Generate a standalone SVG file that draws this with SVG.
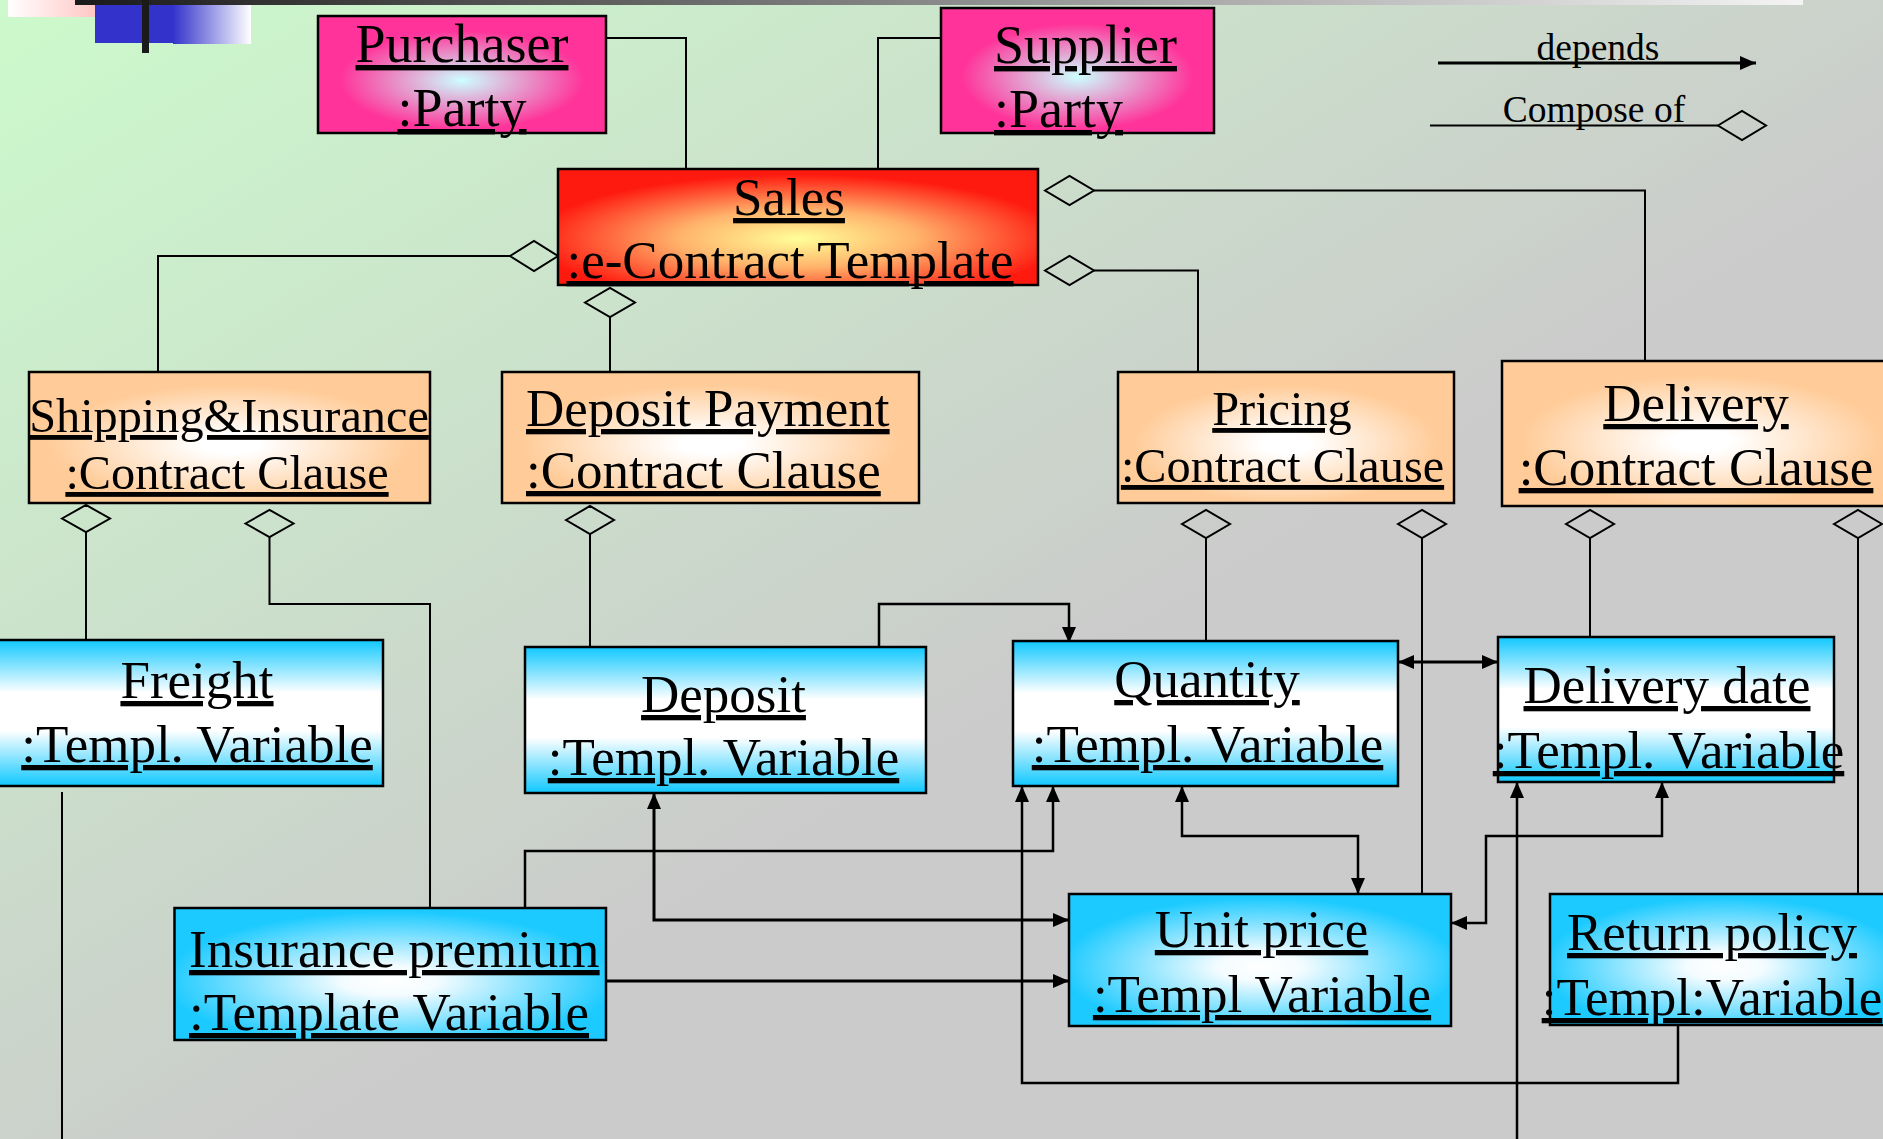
<svg xmlns="http://www.w3.org/2000/svg" width="1883" height="1139" viewBox="0 0 1883 1139">
<defs>
<linearGradient id="gBg" x1="0" y1="0" x2="1" y2="1">
<stop offset="0" stop-color="#ccfacc"/>
<stop offset="0.58" stop-color="#cbcbcb"/>
<stop offset="1" stop-color="#cbcbcb"/>
</linearGradient>
<linearGradient id="gBar" x1="0" y1="0" x2="1" y2="0">
<stop offset="0" stop-color="#1a1a1a"/>
<stop offset="0.5" stop-color="#8a8a8a"/>
<stop offset="1" stop-color="#f4f4f4"/>
</linearGradient>
<linearGradient id="gPinkW" x1="0" y1="0" x2="1" y2="0">
<stop offset="0" stop-color="#ffffff"/>
<stop offset="1" stop-color="#ffb3b0"/>
</linearGradient>
<linearGradient id="gBlueW" x1="0" y1="0" x2="1" y2="0">
<stop offset="0" stop-color="#3333cc"/>
<stop offset="1" stop-color="#ffffff"/>
</linearGradient>
<radialGradient id="gParty" cx="0.5" cy="0.55" r="0.5">
<stop offset="0" stop-color="#ccffff"/>
<stop offset="0.85" stop-color="#ff3399"/>
</radialGradient>
<radialGradient id="gSales" cx="0.5" cy="0.6" r="0.55">
<stop offset="0" stop-color="#ffff99"/>
<stop offset="0.45" stop-color="#ffb36b"/>
<stop offset="1" stop-color="#ff1a10"/>
</radialGradient>
<radialGradient id="gClause" cx="0.5" cy="0.55" r="0.5">
<stop offset="0" stop-color="#ffffff"/>
<stop offset="0.15" stop-color="#ffffff"/>
<stop offset="0.9" stop-color="#ffcc99"/>
</radialGradient>
<radialGradient id="gCyanR" cx="0.5" cy="0.55" r="0.55">
<stop offset="0" stop-color="#ffffff"/>
<stop offset="0.2" stop-color="#f4fcff"/>
<stop offset="0.95" stop-color="#1ccaff"/>
</radialGradient>
<linearGradient id="gCyanV" x1="0" y1="0" x2="0" y2="1">
<stop offset="0" stop-color="#10c8ff"/>
<stop offset="0.36" stop-color="#ffffff"/>
<stop offset="0.62" stop-color="#ffffff"/>
<stop offset="1" stop-color="#10c8ff"/>
</linearGradient>
<marker id="arr" viewBox="0 0 16 14" refX="16" refY="7" markerWidth="16" markerHeight="14" markerUnits="userSpaceOnUse" orient="auto-start-reverse">
<path d="M0,0 L16,7 L0,14 z" fill="#000"/>
</marker>
</defs>
<style>
.box{stroke:#000;stroke-width:2.5}
.t{font-family:"Liberation Serif","Times New Roman",serif;fill:#000;text-decoration:underline;text-anchor:middle}
.s{text-anchor:start}
.f54{font-size:54px}
.f53{font-size:53px}
.f52{font-size:53px}
.f48{font-size:48.3px}
.lg{font-family:"Liberation Serif","Times New Roman",serif;font-size:37.5px;fill:#000;text-anchor:middle}
.ln{fill:none;stroke:#000;stroke-width:2}
.dp{fill:none;stroke:#000;stroke-width:2.5}
.dk{fill:none;stroke:#000;stroke-width:3}
.dia{fill:none;stroke:#000;stroke-width:2}
</style>
<rect x="0" y="0" width="1883" height="1139" fill="url(#gBg)"/>
<g id="decor">
<rect x="8" y="0" width="119" height="17" fill="url(#gPinkW)"/>
<rect x="95" y="0" width="79" height="43" fill="#3333cc"/>
<rect x="173" y="0" width="78" height="44" fill="url(#gBlueW)"/>
<rect x="75" y="0" width="1728" height="5" fill="url(#gBar)"/>
<rect x="142" y="0" width="7" height="53" fill="#1a1a1a"/>
</g>
<g id="legend">
<text class="lg" x="1598" y="60">depends</text>
<line class="dk" x1="1438" y1="63" x2="1756" y2="63" marker-end="url(#arr)"/>
<text class="lg" x="1594" y="122">Compose of</text>
<line class="ln" x1="1430" y1="125.5" x2="1718" y2="125.5"/>
<polygon class="dia" points="1718,125.5 1742,111 1766,125.5 1742,140"/>
</g>
<g id="connectors">
<path class="ln" d="M606,38 H686 V169"/>
<path class="ln" d="M941,38 H878 V169"/>
<path class="ln" d="M510,256 H158 V372"/>
<path class="ln" d="M1094,190.5 H1645 V361"/>
<path class="ln" d="M1094,270.5 H1198 V372"/>
<path class="ln" d="M610,317 V372"/>
<path class="ln" d="M86,532 V640"/>
<path class="ln" d="M269.5,537 V604 H430 V908"/>
<path class="ln" d="M590,534 V647"/>
<path class="ln" d="M1206,538 V641"/>
<path class="ln" d="M1422,538 V894"/>
<path class="ln" d="M1590,538 V637"/>
<path class="ln" d="M1858,538 V894"/>
<path class="ln" d="M62,792 V1139"/>
<polygon class="dia" points="510,256 534,241 558,256 534,271"/>
<polygon class="dia" points="1045,190.5 1069.5,176 1094,190.5 1069.5,205"/>
<polygon class="dia" points="1045,270.5 1069.5,256 1094,270.5 1069.5,285"/>
<polygon class="dia" points="585,302.5 610,288 635,302.5 610,317"/>
<polygon class="dia" points="62,518.5 86,505 110,518.5 86,532"/>
<polygon class="dia" points="245.5,523.5 269.5,510 293.5,523.5 269.5,537"/>
<polygon class="dia" points="566,520 590,506 614,520 590,534"/>
<polygon class="dia" points="1182,524 1206,510 1230,524 1206,538"/>
<polygon class="dia" points="1398,524 1422,510 1446,524 1422,538"/>
<polygon class="dia" points="1566,524 1590,510 1614,524 1590,538"/>
<polygon class="dia" points="1834,524 1858,510 1882,524 1858,538"/>
<path class="dp" d="M879,647 V604 H1069 V643" marker-end="url(#arr)"/>
<path class="dp" d="M1678,1025 V1083 H1022 V786" marker-end="url(#arr)"/>
<path class="dp" d="M525,908 V851 H1053 V786" marker-end="url(#arr)"/>
<path class="dp" d="M1182,786 V836 H1358 V894" marker-start="url(#arr)" marker-end="url(#arr)"/>
<path class="dk" d="M654,793 V920 H1069" marker-start="url(#arr)" marker-end="url(#arr)"/>
<path class="dk" d="M606,981 H1069" marker-end="url(#arr)"/>
<path class="dp" d="M1662,782 V836 H1486 V923 H1451" marker-start="url(#arr)" marker-end="url(#arr)"/>
<path class="dp" d="M1517,1139 V782" marker-end="url(#arr)"/>
<path class="dk" d="M1398,662 H1498" marker-start="url(#arr)" marker-end="url(#arr)"/>
</g>
<g id="purchaser">
<rect class="box" x="318" y="16" width="288" height="117" fill="url(#gParty)"/>
<text class="t f54" x="462" y="62">Purchaser</text>
<text class="t f54" x="462" y="126">:Party</text>
</g>
<g id="supplier">
<rect class="box" x="941" y="8" width="273" height="125" fill="url(#gParty)"/>
<text class="t s f54" x="994" y="63">Supplier</text>
<text class="t s f54" x="994" y="127">:Party</text>
</g>
<g id="sales">
<rect class="box" x="558" y="169" width="480" height="116" fill="url(#gSales)"/>
<text class="t f52" x="789" y="215">Sales</text>
<text class="t f52" x="790" y="278">:e-Contract Template</text>
</g>
<g id="shipping">
<rect class="box" x="29" y="372" width="401" height="131" fill="url(#gClause)"/>
<text class="t f48" x="229" y="432">Shipping&amp;Insurance</text>
<text class="t f48" x="227" y="489">:Contract Clause</text>
</g>
<g id="depositPayment">
<rect class="box" x="502" y="372" width="417" height="131" fill="url(#gClause)"/>
<text class="t s f53" x="526" y="426">Deposit Payment</text>
<text class="t s f53" x="526" y="488">:Contract Clause</text>
</g>
<g id="pricing">
<rect class="box" x="1118" y="372" width="336" height="131" fill="url(#gClause)"/>
<text class="t f48" x="1282" y="425">Pricing</text>
<text class="t f48" x="1282.5" y="482">:Contract Clause</text>
</g>
<g id="delivery">
<rect class="box" x="1502" y="361" width="400" height="145" fill="url(#gClause)"/>
<text class="t f53" x="1696" y="421">Delivery</text>
<text class="t f53" x="1696" y="485">:Contract Clause</text>
</g>
<g id="freight">
<rect class="box" x="-5" y="640" width="388" height="146" fill="url(#gCyanV)"/>
<text class="t f52" x="197" y="698">Freight</text>
<text class="t f52" x="197" y="762">:Templ. Variable</text>
</g>
<g id="deposit">
<rect class="box" x="525" y="647" width="401" height="146" fill="url(#gCyanV)"/>
<text class="t f52" x="723.5" y="712">Deposit</text>
<text class="t f52" x="723.5" y="775">:Templ. Variable</text>
</g>
<g id="quantity">
<rect class="box" x="1013" y="641" width="385" height="145" fill="url(#gCyanV)"/>
<text class="t f52" x="1207" y="697">Quantity</text>
<text class="t f52" x="1207.5" y="762">:Templ. Variable</text>
</g>
<g id="deliveryDate">
<rect class="box" x="1498" y="637" width="336" height="145" fill="url(#gCyanV)"/>
<text class="t f52" x="1667" y="703">Delivery date</text>
<text class="t f52" x="1668.5" y="768">:Templ. Variable</text>
</g>
<g id="insurancePremium">
<rect class="box" x="174.5" y="908" width="431.5" height="132" fill="url(#gCyanR)"/>
<text class="t s f52" x="189" y="967">Insurance premium</text>
<text class="t s f52" x="189" y="1030">:Template Variable</text>
</g>
<g id="unitPrice">
<rect class="box" x="1069" y="894" width="382" height="132" fill="url(#gCyanR)"/>
<text class="t f52" x="1261.5" y="947">Unit price</text>
<text class="t f52" x="1262" y="1012">:Templ Variable</text>
</g>
<g id="returnPolicy">
<rect class="box" x="1550" y="894" width="350" height="131" fill="url(#gCyanR)"/>
<text class="t f52" x="1712" y="950">Return policy</text>
<text class="t f52" x="1712" y="1015">:Templ:Variable</text>
</g>
</svg>
